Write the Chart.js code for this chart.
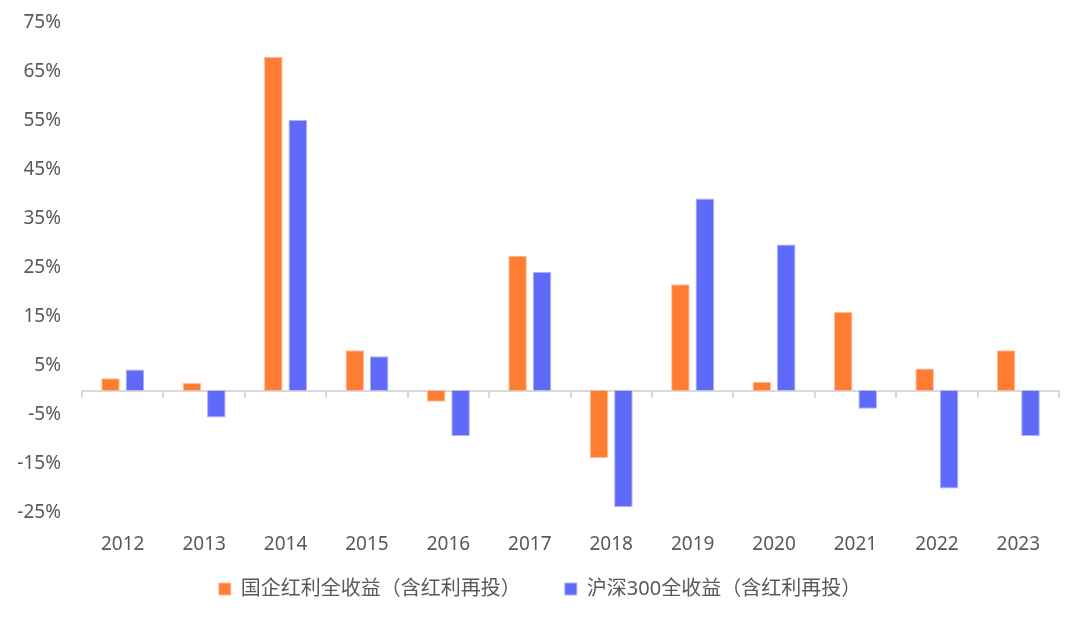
<!DOCTYPE html>
<html>
<head>
<meta charset="utf-8">
<script src="https://cdn.jsdelivr.net/npm/chart.js@4.4.1/dist/chart.umd.min.js"></script>
<style>
  html, body { margin: 0; padding: 0; background: #fff; }
  #wrap { width: 1080px; height: 620px; }
</style>
</head>
<body>
<div id="wrap"><canvas id="barChart" width="1080" height="620"></canvas></div>
<script>
  // anni
  const years = ["2012", "2013", "2014", "2015", "2016", "2017", "2018", "2019", "2020", "2021", "2022", "2023"];
  // rendimenti annui (%)
  const soeDividend = [2.5, 1.6, 68.1, 8.2, -2.3, 27.5, -13.8, 21.7, 1.8, 16.0, 4.5, 8.2];
  const csi300 = [4.3, -5.5, 55.2, 7.0, -9.3, 24.2, -23.8, 39.2, 29.8, -3.7, -20.0, -9.3];
  const seriesNames = ["国企红利全收益（含红利再投）", "沪深300全收益（含红利再投）"];
  const yTicks = [-25, -15, -5, 5, 15, 25, 35, 45, 55, 65, 75];

  const fontFamily = "'Noto Sans', 'Noto Sans CJK SC', sans-serif";
  Chart.defaults.font.family = fontFamily;
  Chart.defaults.color = "#595959";

  // legenda: spazio orizzontale largo ma altezza contenuta
  const legendGap = {
    id: "legendGap",
    afterInit(chart) {
      const legend = chart.legend;
      const origFit = legend.fit;
      legend.fit = function () {
        origFit.call(this);
        this.height = 40;
      };
    },
    afterLayout(chart) {
      // allarga il box (il testo sta dopo il padding) e centra sulla pagina
      const legend = chart.legend;
      legend.top -= 18;
      legend.bottom = chart.height;
      legend.height = legend.bottom - legend.top;
      legend.right = chart.width;
      legend.width = legend.right - legend.left;
    },
  };

  var ctx = document.getElementById("barChart").getContext("2d");
  var barChart = new Chart(ctx, {
    type: "bar",
    data: {
      labels: years,
      datasets: [
        {
          label: seriesNames[0],
          data: soeDividend,
          backgroundColor: "rgb(255, 125, 50)",
          borderColor: "rgba(255, 190, 150, 1)",
          borderWidth: 1,
          categoryPercentage: 0.6,
          barPercentage: 0.76,
        },
        {
          label: seriesNames[1],
          data: csi300,
          backgroundColor: "rgb(96, 106, 248)",
          borderColor: "rgba(170, 176, 252, 1)",
          borderWidth: 1,
          categoryPercentage: 0.6,
          barPercentage: 0.76,
        },
      ],
    },
    plugins: [legendGap],
    options: {
      responsive: false,
      animation: false,
      layout: { padding: { left: 0, right: 21, top: 23, bottom: 27 } },
      plugins: {
        tooltip: { enabled: false },
        legend: {
          position: "bottom",
          labels: {
            boxWidth: 12,
            boxHeight: 12,
            padding: 44,
            font: { size: 20 },
            color: "#595959",
          },
        },
      },
      scales: {
        x: {
          type: "category",
          position: { y: 0 },
          offset: true,
          grid: {
            offset: true,
            drawOnChartArea: false,
            drawTicks: true,
            tickLength: 6,
            color: "#d9d9d9",
            lineWidth: 2,
          },
          border: { display: true, color: "#d9d9d9", width: 2 },
          ticks: { display: false },
        },
        x2: {
          type: "category",
          position: "bottom",
          offset: true,
          grid: { display: false, drawTicks: false },
          border: { display: false },
          ticks: { font: { size: 19 }, color: "#595959", padding: 20 },
          afterFit: (axis) => {
            axis.height = 40;
          },
        },
        y: {
          min: -25,
          max: 75,
          afterBuildTicks: (axis) => {
            axis.ticks = yTicks.map((v) => ({ value: v }));
          },
          afterFit: (axis) => {
            axis.width = 82;
            axis.paddingTop = 0;
            axis.paddingBottom = 0;
          },
          grid: { display: false, drawTicks: false },
          border: { display: false },
          ticks: {
            font: { size: 19 },
            color: "#595959",
            padding: 21,
            callback: (v) => v + "%",
          },
        },
      },
    },
  });
</script>
</body>
</html>
